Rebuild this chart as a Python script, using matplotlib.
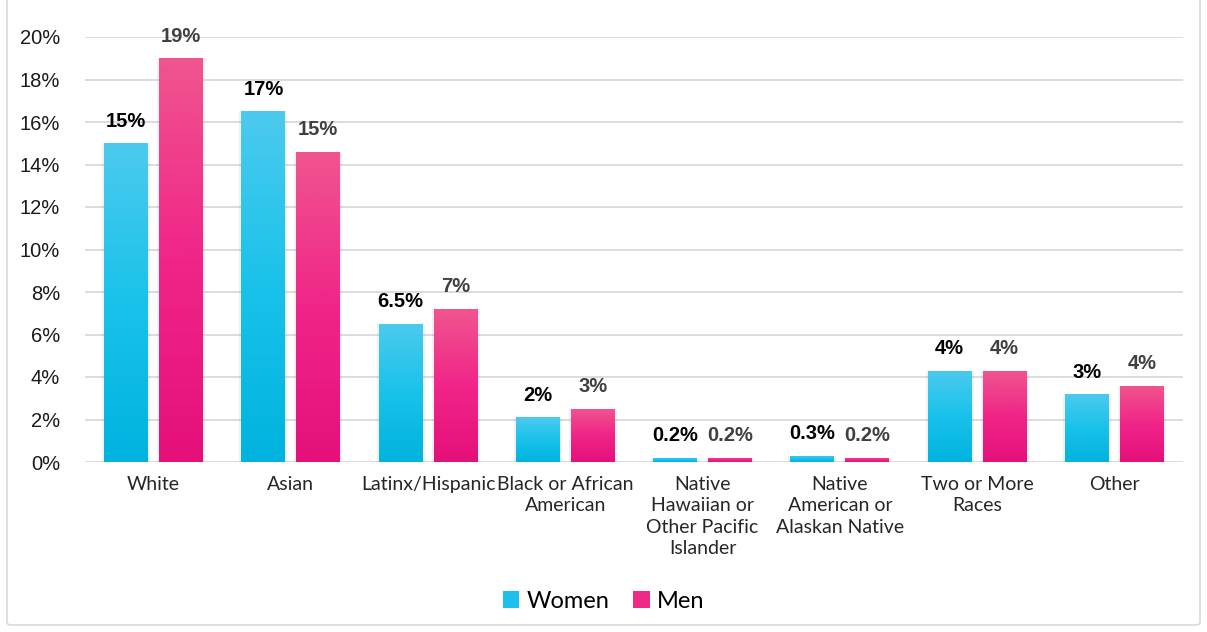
import numpy as np
import matplotlib
matplotlib.use("Agg")
import matplotlib.pyplot as plt
from matplotlib.colors import LinearSegmentedColormap
from matplotlib.patches import FancyBboxPatch, Patch

categories = ["White", "Asian", "Latinx/Hispanic", "Black or African\nAmerican",
              "Native\nHawaiian or\nOther Pacific\nIslander", "Native\nAmerican or\nAlaskan Native",
              "Two or More\nRaces", "Other"]
women = [15.0, 16.5, 6.5, 2.1, 0.2, 0.3, 4.3, 3.2]
men = [19.0, 14.6, 7.2, 2.5, 0.2, 0.2, 4.3, 3.6]
women_labels = ["15%", "17%", "6.5%", "2%", "0.2%", "0.3%", "4%", "3%"]
men_labels = ["19%", "15%", "7%", "3%", "0.2%", "0.2%", "4%", "4%"]
yticks = [0, 2, 4, 6, 8, 10, 12, 14, 16, 18, 20]

W, H = 1207, 632
fig = plt.figure(figsize=(W / 100, H / 100), dpi=100)
fig.patch.set_facecolor("white")
fig.add_artist(FancyBboxPatch((7 / W, 7 / H), 1193 / W, 640 / H, boxstyle="round,pad=0,rounding_size=0.004",
                              transform=fig.transFigure, fill=False, edgecolor="#d9d9d9", linewidth=1.2))

ax = fig.add_axes([85 / W, 1 - 462 / H, (1183 - 85) / W, (462 - 37) / H])
ax.set_xlim(-0.5, len(categories) - 0.5)
ax.set_ylim(0, 20)
for s in ax.spines.values():
    s.set_visible(False)
ax.set_yticks(yticks)
ax.set_yticklabels([f"{v}%" for v in yticks], fontsize=14.5, family="Liberation Sans", color="#1a1a1a")
ax.tick_params(axis="y", length=0, pad=18)
ax.tick_params(axis="x", length=0, pad=10)
ax.grid(axis="y", color="#d9d9d9", linewidth=1.3)
ax.set_axisbelow(True)
ax.set_xticks(range(len(categories)))
ax.set_xticklabels(categories, fontsize=14, family="Lato", color="#262626", linespacing=1.32, va="top")

cm_w = LinearSegmentedColormap.from_list("w", ["#00b3df", "#19c2ea", "#4ccaee"])
cm_m = LinearSegmentedColormap.from_list("m", ["#e5107a", "#f02588", "#f0558f"])
grad = np.linspace(0, 1, 256).reshape(-1, 1)

x = np.arange(len(categories))
bw = 0.32
off = 0.2
bars_w = ax.bar(x - off, women, bw, color="none", edgecolor="none", zorder=3)
bars_m = ax.bar(x + off, men, bw, color="none", edgecolor="none", zorder=3)
for bars, cm in ((bars_w, cm_w), (bars_m, cm_m)):
    for b in bars:
        x0, y0, w, h = b.get_x(), b.get_y(), b.get_width(), b.get_height()
        ax.bar(x0 + w / 2, h, w + 0.03, bottom=0, color="black", alpha=0.05, zorder=2.5, edgecolor="none")
        im = ax.imshow(grad, cmap=cm, extent=[x0, x0 + w, y0, y0 + h], aspect="auto",
                       origin="lower", zorder=3.2, interpolation="bilinear")
        im.set_clip_path(b)

for i in range(len(categories)):
    ax.annotate(women_labels[i], (x[i] - off, women[i]), xytext=(0, 9), textcoords="offset points",
                ha="center", va="bottom", fontsize=14.5, fontweight="bold", family="Liberation Sans", color="#000000")
    ax.annotate(men_labels[i], (x[i] + off, men[i]), xytext=(0, 9), textcoords="offset points",
                ha="center", va="bottom", fontsize=14.5, fontweight="bold", family="Liberation Sans", color="#404040")

handles = [Patch(facecolor="#1cc0ea", label="Women"), Patch(facecolor="#ee2a86", label="Men")]
fig.legend(handles=handles, loc="center", bbox_to_anchor=(0.5, 1 - 601 / H), ncol=2, frameon=False,
           prop={"family": "Lato", "size": 17}, handlelength=0.7, handleheight=0.7, handletextpad=0.3,
           columnspacing=1.0)

fig.savefig("out.png", dpi=100, facecolor="white")
